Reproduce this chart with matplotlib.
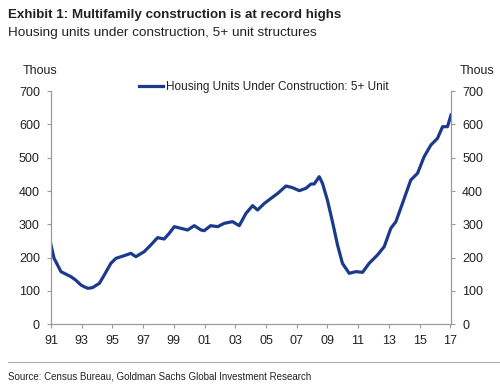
import matplotlib
matplotlib.use('Agg')
import matplotlib.pyplot as plt

plt.rcParams['font.family'] = ['Liberation Sans', 'DejaVu Sans']

# fractional years and thousands of units
years = [1991.0, 1991.2, 1991.65, 1992.08, 1992.3, 1992.6, 1992.95, 1993.2, 1993.4, 1993.7,
         1994.15, 1994.47, 1994.9, 1995.23, 1995.77, 1996.2, 1996.53, 1997.07, 1997.5,
         1997.94, 1998.37, 1998.7, 1999.03, 1999.46, 1999.9, 2000.33, 2000.77, 2000.98,
         2001.4, 2001.85, 2002.28, 2002.82, 2003.26, 2003.7, 2004.13, 2004.45, 2004.9,
         2005.33, 2005.77, 2006.3, 2006.73, 2007.17, 2007.6, 2007.93, 2008.14, 2008.47,
         2008.68, 2009.0, 2009.33, 2009.66, 2009.98, 2010.42, 2010.85, 2011.29, 2011.72,
         2012.26, 2012.7, 2013.13, 2013.46, 2013.89, 2014.43, 2014.87, 2015.3, 2015.74,
         2016.17, 2016.5, 2016.82, 2017.05]
units = [238, 198, 158, 148, 143, 133, 118, 112, 108, 110,
         123, 148, 183, 198, 206, 213, 203, 218, 238,
         260, 256, 273, 293, 288, 283, 296, 283, 281,
         296, 293, 303, 308, 296, 333, 356, 343, 363,
         378, 393, 415, 410, 401, 408, 421, 421, 443,
         423, 373, 308, 238, 183, 153, 158, 156, 183,
         208, 233, 288, 308, 363, 433, 453, 503, 538,
         558, 593, 593, 628]

tick_years = list(range(1991, 2018, 2))
tick_labels = ['%02d' % (y % 100) for y in tick_years]
y_ticks = [0, 100, 200, 300, 400, 500, 600, 700]

line_color = '#1b3a8c'
grey = '#999999'
text_color = '#222222'

fig = plt.figure(figsize=(5, 3.89), dpi=100)
ax = fig.add_axes([0.102, 0.1663, 0.8, 0.5997])
ax.plot(years, units, color=line_color, lw=2.3, label='Housing Units Under Construction: 5+ Unit')

ax.set_xlim(1991, 2017.05)
ax.set_ylim(0, 700)
ax.set_xticks(tick_years)
ax.set_xticklabels(tick_labels)
ax.set_yticks(y_ticks)

ax2 = ax.twinx()
ax2.set_ylim(0, 700)
ax2.set_yticks(y_ticks)

for a in (ax, ax2):
    a.spines['top'].set_visible(False)
    for s in ('left', 'right', 'bottom'):
        a.spines[s].set_color(grey)
        a.spines[s].set_linewidth(0.8)
    a.tick_params(colors=grey, labelcolor=text_color, labelsize=9, length=3, width=0.8, pad=5)

ax.legend(loc='upper center', bbox_to_anchor=(0.533, 1.09), frameon=False, fontsize=8.5,
          handlelength=2.0, handletextpad=0.3, labelcolor=text_color)

fig.text(0.046, 0.81, 'Thous', fontsize=9, color=text_color)
fig.text(0.92, 0.81, 'Thous', fontsize=9, color=text_color)

fig.text(0.016, 0.962, 'Exhibit 1: Multifamily construction is at record highs',
         fontsize=9.6, fontweight='bold', color=text_color, va='center')
fig.text(0.016, 0.915, 'Housing units under construction, 5+ unit structures',
         fontsize=9.7, color=text_color, va='center')

fig.add_artist(plt.Line2D([0.016, 1.0], [0.069, 0.069], color='#aaaaaa', lw=0.8,
                          transform=fig.transFigure))
fig.text(0.016, 0.031, 'Source: Census Bureau, Goldman Sachs Global Investment Research',
         fontsize=7, color=text_color, va='center')

fig.savefig('out.png', dpi=100)
